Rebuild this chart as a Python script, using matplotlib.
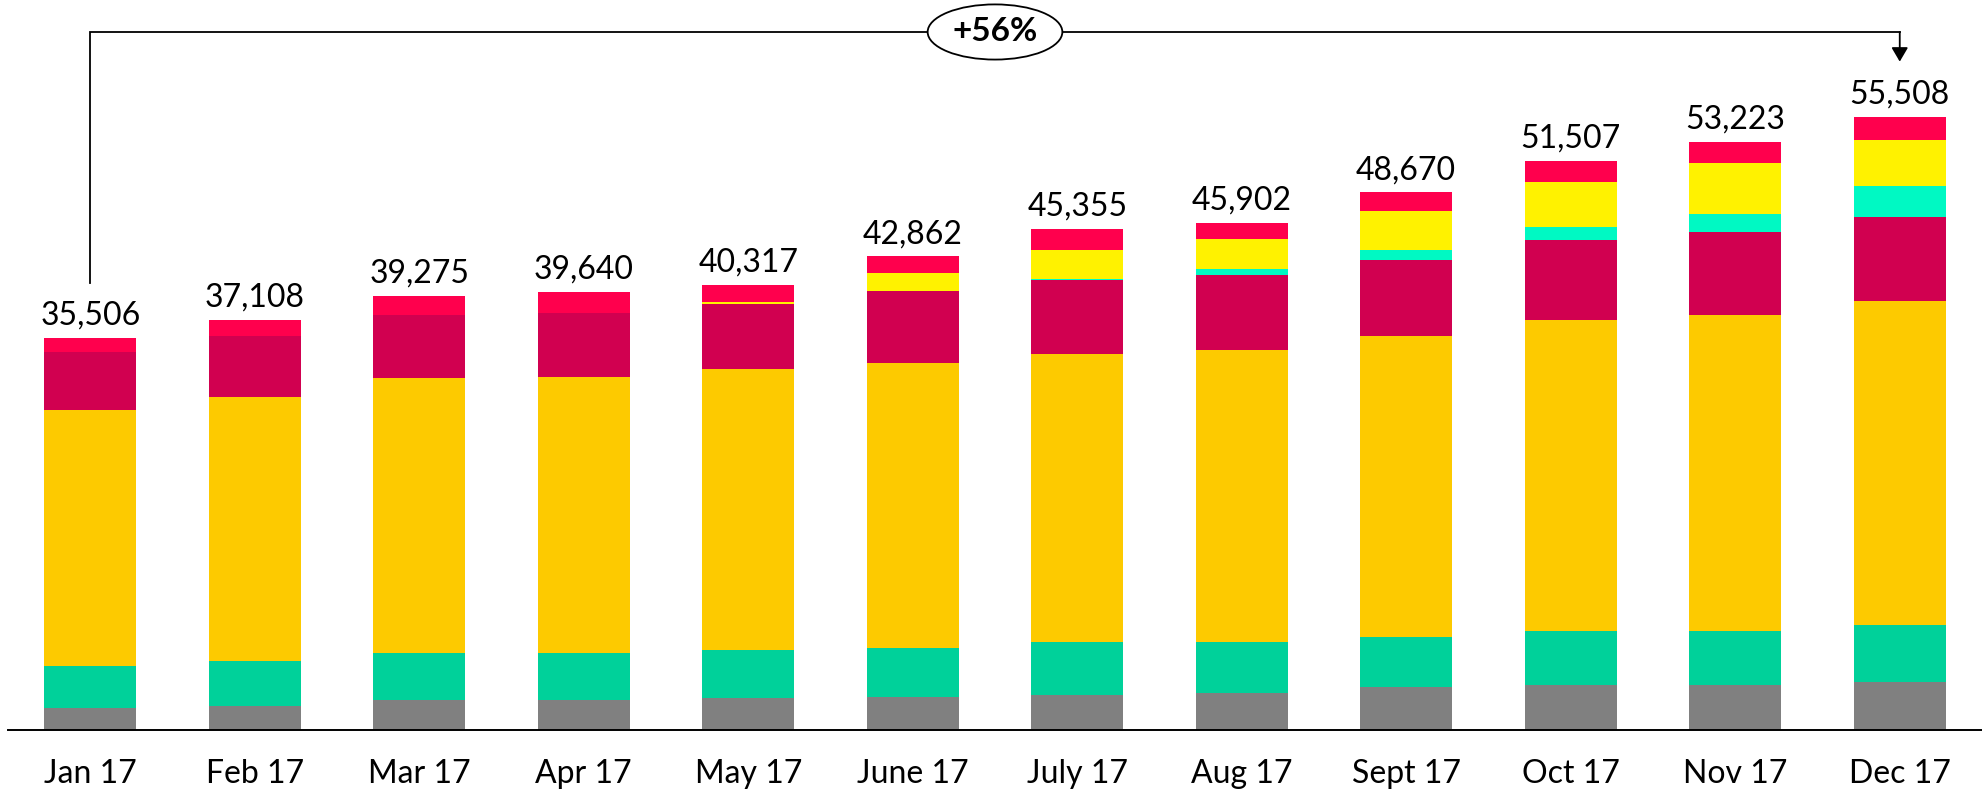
import numpy as np
import matplotlib
matplotlib.use("Agg")
import matplotlib.pyplot as plt

plt.rcParams["font.family"] = ["Lato", "DejaVu Sans"]

months = ["Jan 17", "Feb 17", "Mar 17", "Apr 17", "May 17", "June 17",
          "July 17", "Aug 17", "Sept 17", "Oct 17", "Nov 17", "Dec 17"]
totals = [35506, 37108, 39275, 39640, 40317, 42862,
          45355, 45902, 48670, 51507, 53223, 55508]

# segments, bottom to top
gray    = [2020, 2200, 2715, 2715, 2923, 2987, 3168, 3349, 3919, 4100, 4100, 4371]
green   = [3800, 4045, 4254, 4254, 4317, 4435, 4797, 4616, 4498, 4860, 4860, 5131]
orange  = [23170, 23895, 24884, 24979, 25474, 25756, 26078, 26443, 27220, 28157, 28606, 29353]
crimson = [5250, 5520, 5702, 5792, 5883, 6516, 6697, 6788, 6878, 7240, 7512, 7602]
teal    = [0, 0, 0, 0, 0, 0, 90, 543, 905, 1177, 1629, 2806]
yellow  = [0, 0, 0, 0, 181, 1629, 2625, 2715, 3530, 4073, 4616, 4163]
red     = [1266, 1448, 1720, 1900, 1539, 1539, 1900, 1448, 1720, 1900, 1900, 2082]

growth_label = "+56%"

series = [
    (gray,    "#808080"),
    (green,   "#00D19A"),
    (orange,  "#FDCA00"),
    (crimson, "#D10050"),
    (teal,    "#00F9C3"),
    (yellow,  "#FFF200"),
    (red,     "#FF004D"),
]

W, H = 1982, 793
fig = plt.figure(figsize=(W / 100, H / 100), dpi=100)
ax = fig.add_axes([8 / W, 63 / H, 1974 / W, 730 / H])

x = np.arange(len(months))
bottom = np.zeros(len(months))
for vals, color in series:
    v = np.array(vals, dtype=float)
    ax.bar(x, v, width=0.56, bottom=bottom, color=color, linewidth=0)
    bottom += v

for xi, t in zip(x, totals):
    ax.text(xi, t + 1180, f"{t:,}", ha="center", va="baseline", fontsize=23)

ax.set_xlim(-0.5, 11.5)
ax.set_ylim(0, 66065)

# bracket from Jan to Dec
y_br = 63170
off = 4980
ax.plot([x[0], x[0], x[-1]], [totals[0] + off, y_br, y_br],
        color="black", linewidth=1.3, solid_joinstyle="miter")
ax.annotate("", xy=(x[-1], totals[-1] + off), xytext=(x[-1], y_br),
            arrowprops=dict(arrowstyle="-|>,head_length=0.85,head_width=0.5",
                            color="black", linewidth=1.3, shrinkA=0, shrinkB=0))
ax.text((x[0] + x[-1]) / 2, y_br, growth_label, ha="center", va="center",
        fontsize=24, fontweight="bold",
        bbox=dict(boxstyle="ellipse,pad=0.15", fc="white", ec="black", lw=1.3))

for s in ["top", "right", "left"]:
    ax.spines[s].set_visible(False)
ax.spines["bottom"].set_linewidth(1.4)
ax.set_yticks([])
ax.set_xticks(x)
ax.set_xticklabels(months, fontsize=23)
ax.tick_params(axis="x", length=0, pad=21)

fig.savefig("out.png", dpi=100)
